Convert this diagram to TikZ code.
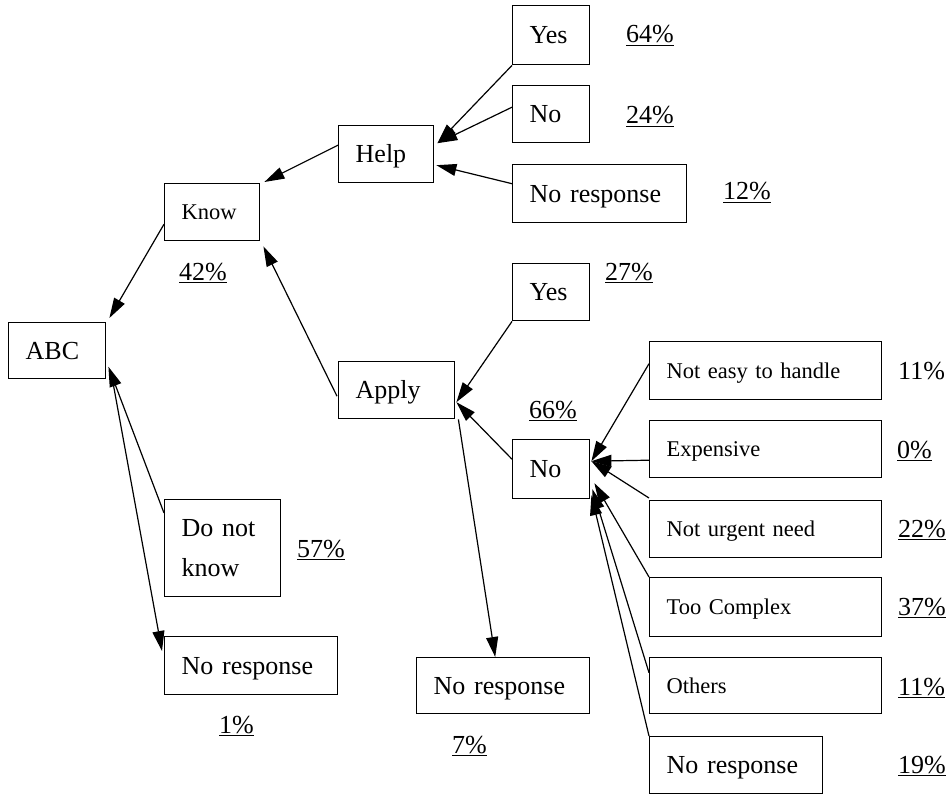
\documentclass[tikz,border=0pt]{standalone}
\usepackage{fontspec}
\setmainfont{Liberation Serif}
\usetikzlibrary{calc,arrows.meta}

\begin{document}
\begin{tikzpicture}[
  x=1pt, y=-1pt,
  box/.style 2 args={draw, line width=1.4pt, anchor=north west,
    inner xsep=17pt, inner ysep=0pt, text width=#1pt, minimum height=#2pt,
    align=left, text height=17pt, text depth=0pt,
    font=\fontsize{26}{30}\selectfont},
  small/.style={font=\fontsize{22.5}{27}\selectfont, text height=15pt},
  pct/.style={anchor=base west, inner sep=0pt, font=\fontsize{26}{30}\selectfont},
  conn/.style={line width=1.2pt, -{Triangle[length=20pt,width=12pt]}}
]
\useasboundingbox (0,0) rectangle (947,794);

% left part of the tree
\node[box={63}{56}]  (abc)   at (8,322)   {ABC};
\node[box={61}{57}, small] (know) at (164,183) {Know};
\node[box={82}{97}, text depth=40pt] (dnk) at (164,499) {Do not\\[10pt]know};
\node[box={139}{58}] (nrC)   at (164,636) {No response};

% Help branch
\node[box={61}{57}]  (help)  at (338,125) {Help};
\node[box={43}{59}]  (yesA)  at (512,5)   {Yes};
\node[box={43}{57}]  (noA)   at (512,85)  {No};
\node[box={140}{58}] (nrA)   at (512,164) {No response};

% Apply branch
\node[box={82}{57}]  (apply) at (338,361) {Apply};
\node[box={43}{57}]  (yesB)  at (512,263) {Yes};
\node[box={43}{59}]  (noB)   at (512,439) {No};
\node[box={139}{56}] (nrB)   at (416,657) {No response};

% reasons for not applying
\node[box={198}{58}, small] (ne)  at (649,341) {Not easy to handle};
\node[box={198}{57}, small] (exp) at (649,420) {Expensive};
\node[box={198}{57}, small] (nun) at (649,500) {Not urgent need};
\node[box={198}{59}, small] (tc)  at (649,577) {Too Complex};
\node[box={198}{56}, small] (oth) at (649,657) {Others};
\node[box={139}{57}] (nrD) at (649,736) {No response};

% percentages
\node[pct] (pKnow) at (179,280) {\underline{42\%}};
\node[pct] (pDnk)  at (297,557) {\underline{57\%}};
\node[pct] (pNrC)  at (219,733) {\underline{1\%}};
\node[pct] (pYesA) at (626,43)  {\underline{64\%}};
\node[pct] (pNoA)  at (626,124) {\underline{24\%}};
\node[pct] (pNrA)  at (723,200) {\underline{12\%}};
\node[pct] (pYesB) at (605,280) {\underline{27\%}};
\node[pct] (pNoB)  at (529,418) {\underline{66\%}};
\node[pct] (pNrB)  at (452,753) {\underline{7\%}};
\node[pct] (pNe)   at (898,379) {11\%};
\node[pct] (pExp)  at (897,458) {\underline{0\%}};
\node[pct] (pNun)  at (898,537) {\underline{22\%}};
\node[pct] (pTc)   at (898,615) {\underline{37\%}};
\node[pct] (pOth)  at (898,695) {\underline{11\%}};
\node[pct] (pNrD)  at (898,773) {\underline{19\%}};

% connectors
\draw[conn] ($(know.west)+(0,12)$) -- ($(abc.north east)+(3,-4)$);
\draw[conn] ($(help.west)+(0,-9)$) -- ($(know.north east)+(4,-1)$);
\draw[conn] ($(apply.west)+(-1,6)$) -- ($(know.south east)+(3,5)$);
\draw[conn] (yesA.south west) -- ($(help.east)+(3,-11)$);
\draw[conn] ($(noA.west)+(0,-7)$) -- ($(help.east)+(3,-11)$);
\draw[conn] ($(nrA.west)+(0,-10)$) -- ($(help.east)+(2,11)$);
\draw[conn] (yesB.south west) -- ($(apply.east)+(1,12)$);
\draw[conn] ($(noB.west)+(0,-10)$) -- ($(apply.east)+(1,12)$);
\draw[conn] ($(apply.south east)+(3,0)$) -- ($(nrB.north)+(-8,0)$);
\draw[conn] ($(dnk.north west)+(0,14)$) -- ($(abc.east)+(2,16)$);
\draw[conn] ($(abc.south east)+(6,0)$) -- ($(nrC.north west)+(-2,15)$);
\draw[conn] ($(ne.west)+(0,-7)$) -- ($(noB.east)+(1,-8)$);
\draw[conn] ($(exp.west)+(0,11)$) -- ($(noB.east)+(1,-8)$);
\draw[conn] ($(nun.north west)+(0,-2)$) -- ($(noB.east)+(1,-8)$);
\draw[conn] (tc.north west) -- ($(noB.east)+(4,14)$);
\draw[conn] ($(oth.west)+(0,-13)$) -- ($(noB.east)+(2,20)$);
\draw[conn] (nrD.north west) -- ($(noB.east)+(1,26)$);
\end{tikzpicture}
\end{document}
